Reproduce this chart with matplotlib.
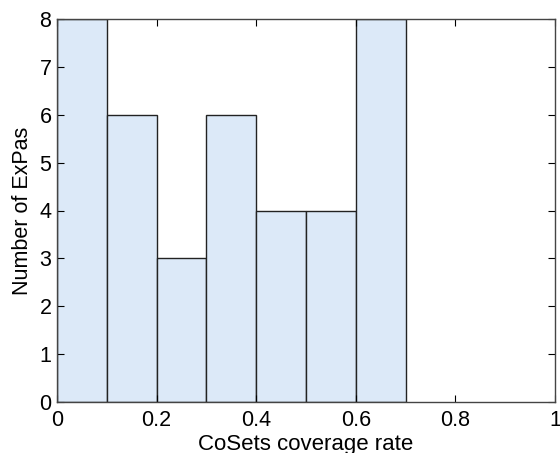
import numpy as np
import matplotlib.pyplot as plt

# histogram bins (left edges) and counts
bin_left = [0.0, 0.1, 0.2, 0.3, 0.4, 0.5, 0.6]
counts = [8, 6, 3, 6, 4, 4, 8]
bin_width = 0.1

x_ticks = [0, 0.2, 0.4, 0.6, 0.8, 1]
x_tick_labels = ['0', '0.2', '0.4', '0.6', '0.8', '1']
y_ticks = [0, 1, 2, 3, 4, 5, 6, 7, 8]

plt.rcParams['font.family'] = ['Liberation Sans', 'DejaVu Sans']

fig = plt.figure(figsize=(5.6, 4.53), dpi=100)
ax = fig.add_axes([57/560, 1 - 402/453, (555-57)/560, (402-19)/453])

ax.bar(bin_left, counts, width=bin_width, align='edge',
       color='#dce9f8', edgecolor='#222222', linewidth=1.0)

ax.set_xlim(0, 1)
ax.set_ylim(0, 8)
ax.set_xticks(x_ticks)
ax.set_xticklabels(x_tick_labels)
ax.set_yticks(y_ticks)
ax.tick_params(direction='in', top=True, right=True, length=5,
               labelsize=15.5, width=0.8)
ax.tick_params(axis='x', pad=6)
ax.tick_params(axis='y', pad=4)
for s in ax.spines.values():
    s.set_linewidth(1.0)
    s.set_color('#444444')

ax.set_xlabel('CoSets coverage rate', fontsize=16, labelpad=2)
ax.set_ylabel('Number of ExPas', fontsize=15.5)
ax.yaxis.set_label_coords(-0.048, 0.5)

fig.savefig('out.png', dpi=100)
